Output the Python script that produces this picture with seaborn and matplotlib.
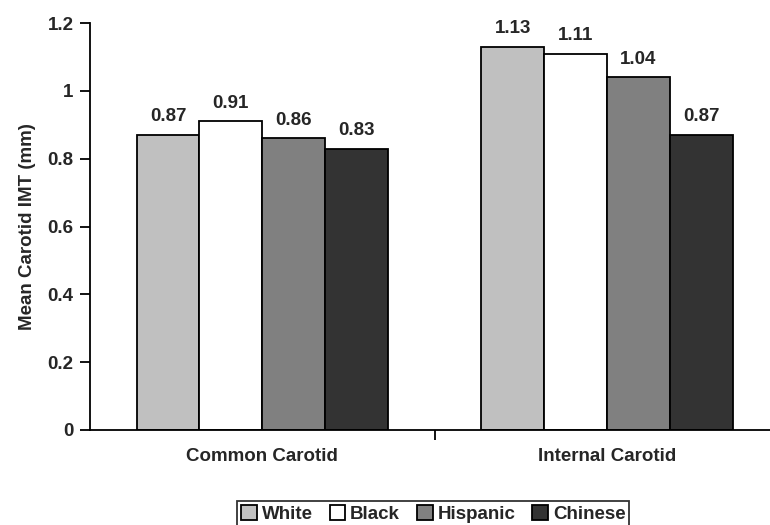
import pandas as pd
import numpy as np
import matplotlib
matplotlib.use('Agg')
import matplotlib.pyplot as plt
import seaborn as sns
from matplotlib import font_manager

sites = ['Common Carotid', 'Internal Carotid']
groups = ['White', 'Black', 'Hispanic', 'Chinese']
imt_common = [0.87, 0.91, 0.86, 0.83]
imt_internal = [1.13, 1.11, 1.04, 0.87]
colores = ['#c0c0c0', '#ffffff', '#808080', '#333333']

df = pd.DataFrame({
    'site': [sites[0]] * 4 + [sites[1]] * 4,
    'group': groups * 2,
    'imt': imt_common + imt_internal,
})

nomes = {f.name for f in font_manager.fontManager.ttflist}
fonte = 'Liberation Sans Narrow' if 'Liberation Sans Narrow' in nomes else 'Liberation Sans'
tam = 15.5 if fonte == 'Liberation Sans Narrow' else 13.5

sns.set_style('white')
plt.rcParams['font.family'] = [fonte, 'DejaVu Sans']
plt.rcParams['font.weight'] = 'bold'

fig = plt.figure(figsize=(7.7, 5.25), dpi=100)
ax = fig.add_axes([0.117, 0.181, 0.895, 0.775])
sns.barplot(data=df, x='site', y='imt', hue='group', hue_order=groups,
            palette=colores, width=0.73, gap=0, edgecolor='black',
            linewidth=1.3, ax=ax, legend=True, saturation=1)

for cont in ax.containers:
    ax.bar_label(cont, fmt='%.2f', padding=7, fontsize=tam, fontweight='bold')

ax.set_ylim(0, 1.2)
ax.set_xlim(-0.5, 1.5)
ax.set_yticks([0, 0.2, 0.4, 0.6, 0.8, 1.0, 1.2])
ax.set_yticklabels(['0', '0.2', '0.4', '0.6', '0.8', '1', '1.2'], fontsize=tam, fontweight='bold')
ax.set_xticks([0.5])
ax.set_xticklabels([''])
for i, s in enumerate(sites):
    ax.text(i, -0.078, s, ha='center', va='center', fontsize=tam, fontweight='bold')
ax.tick_params(axis='both', direction='out', length=7, width=1.3, color='black',
               left=True, bottom=True, pad=5)
ax.set_xlabel('')
ax.set_ylabel('Mean Carotid IMT (mm)', fontsize=tam, fontweight='bold', labelpad=8)
sns.despine(ax=ax, top=True, right=True)
for sp in ['left', 'bottom']:
    ax.spines[sp].set_linewidth(1.3)
    ax.spines[sp].set_color('black')

leg = ax.legend(loc='lower center', bbox_to_anchor=(0.498, -0.237), ncol=4,
                frameon=True, fancybox=False, edgecolor='black',
                prop={'size': tam, 'weight': 'bold'}, handlelength=0.85, handleheight=0.85,
                handletextpad=0.25, columnspacing=0.9, borderpad=0.2, borderaxespad=0)
leg.get_frame().set_linewidth(1.3)

fig.savefig('out.png', dpi=100)
